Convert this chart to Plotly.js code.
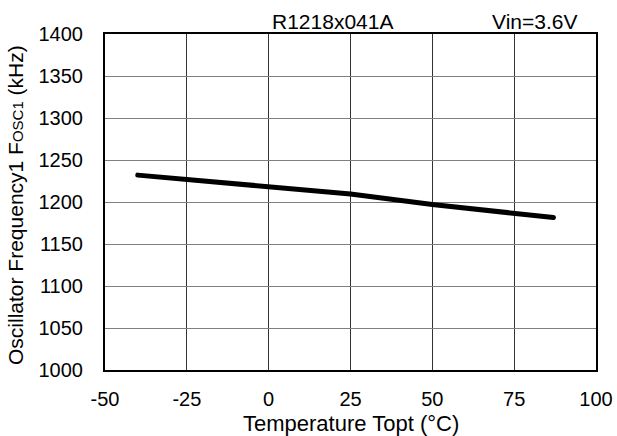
<!DOCTYPE html>
<html>
<head>
<meta charset="utf-8">
<script src="https://cdn.plot.ly/plotly-3.0.1.min.js"></script>
<style>
html,body{margin:0;padding:0;background:#fff;}
#chart{width:617px;height:436px;}
.scatterlayer path.js-line{stroke-linecap:round;}
</style>
</head>
<body>
<div id="chart"></div>
<script>
const temperature = [-40, -25, 0, 25, 50, 75, 87];
const frequency = [1232, 1227, 1218, 1209.5, 1197, 1186.5, 1181.5];
const xTicks = [-50, -25, 0, 25, 50, 75, 100];
const yTicks = [1000, 1050, 1100, 1150, 1200, 1250, 1300, 1350, 1400];
const chartTitle = "R1218x041A";
const condition = "Vin=3.6V";
const xTitle = "Temperature Topt (°C)";
const yTitle = "Oscillator Frequency1 F<span style='font-size:15px'>OSC1</span> (kHz)";

const fam = "Liberation Sans, Arial, sans-serif";
const tickFont = {family: fam, size: 20, color: "#000"};
const titleFont = {family: fam, size: 21, color: "#000"};
const xTitleFont = {family: fam, size: 22, color: "#000"};

Plotly.newPlot("chart", [{
  x: temperature, y: frequency, type: "scatter", mode: "lines",
  line: {color: "#000", width: 5}, hoverinfo: "skip"
}], {
  width: 617, height: 436,
  margin: {l: 105, r: 21, t: 34, b: 66},
  paper_bgcolor: "#fff", plot_bgcolor: "#fff",
  font: tickFont,
  showlegend: false,
  xaxis: {
    range: [-50, 100], tickvals: xTicks, ticktext: xTicks.map(String),
    showgrid: true, gridcolor: "#333", gridwidth: 1, zeroline: false,
    showline: true, linecolor: "#000", linewidth: 2, mirror: true,
    ticks: "", ticklen: 0, tickfont: tickFont, ticklabelstandoff: 10
  },
  yaxis: {
    range: [1000, 1400], tickvals: yTicks, ticktext: yTicks.map(String),
    showgrid: true, gridcolor: "#808080", gridwidth: 1, zeroline: false,
    showline: true, linecolor: "#000", linewidth: 2, mirror: true,
    ticks: "", ticklen: 0, tickfont: tickFont, ticklabelstandoff: 16
  },
  annotations: [
    {text: chartTitle, xref: "paper", yref: "paper", x: (332 - 105) / 491, y: 1, xanchor: "center", yanchor: "bottom", showarrow: false, font: titleFont, yshift: 0, borderpad: 0},
    {text: condition, xref: "paper", yref: "paper", x: (578 - 105) / 491, y: 1, xanchor: "right", yanchor: "bottom", showarrow: false, font: titleFont, yshift: 0, borderpad: 0},
    {text: xTitle, xref: "paper", yref: "paper", x: 0.5, y: 0, xanchor: "center", yanchor: "middle", showarrow: false, font: xTitleFont, yshift: -53, borderpad: 0},
    {text: yTitle, xref: "paper", yref: "paper", x: 0, y: 0.5, xanchor: "center", yanchor: "middle", textangle: -90, showarrow: false, font: titleFont, xshift: -90, yshift: -3, borderpad: 0}
  ]
}, {staticPlot: true, displayModeBar: false});
</script>
</body>
</html>
